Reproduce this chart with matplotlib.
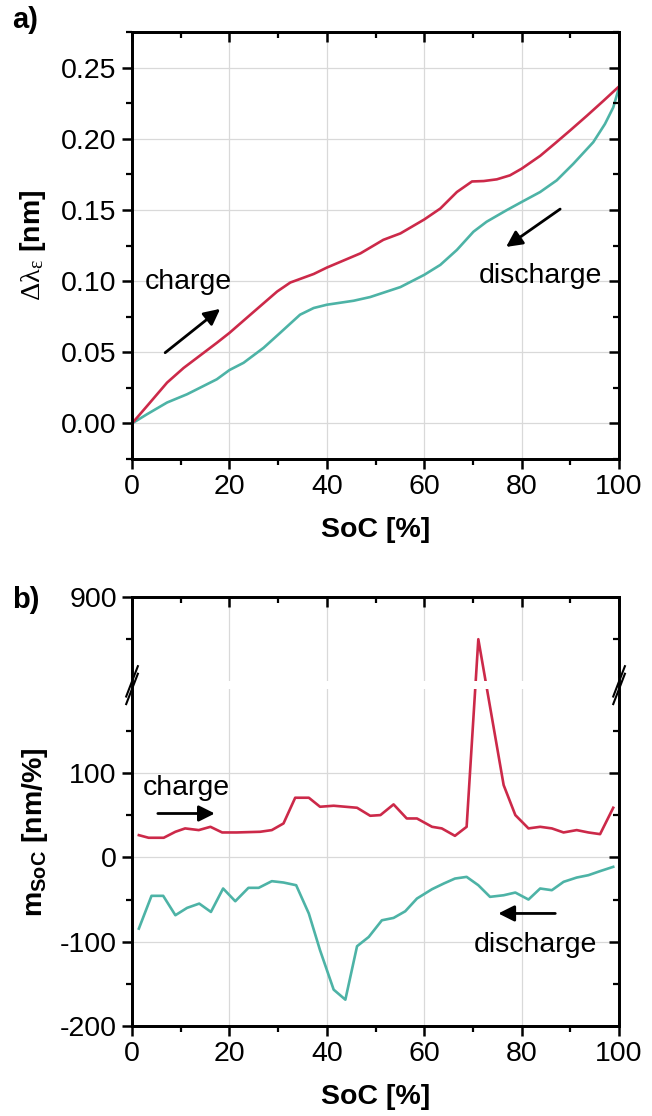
import matplotlib
matplotlib.use("Agg")
import matplotlib.pyplot as plt
from matplotlib.ticker import MultipleLocator, FixedLocator, NullFormatter

plt.rcParams['font.family'] = ['Liberation Sans', 'DejaVu Sans']
plt.rcParams['mathtext.fontset'] = 'custom'
plt.rcParams['mathtext.rm'] = 'Liberation Serif'
plt.rcParams['mathtext.it'] = 'Liberation Serif:italic'
plt.rcParams['mathtext.bf'] = 'Liberation Sans:bold'
plt.rcParams['mathtext.default'] = 'rm'

RED = '#CC2949'
TEAL = '#4DB3A6'
FS = 20.5

# panel a) wavelength shift vs SoC
soc_ch_a = [0, 3.1, 7.2, 10.6, 17.4, 20, 24.3, 29.8, 32.5, 37.3, 40, 46.9, 51.6, 55.1,
            60, 63.3, 66.7, 69.8, 72.2, 74.9, 77.6, 80, 83.8, 86.9, 89.9, 93.4, 96.8, 99.9]
dl_ch = [0, 0.0123, 0.0287, 0.039, 0.0566, 0.0636, 0.0764, 0.0927, 0.099, 0.105, 0.1095,
         0.1195, 0.129, 0.1335, 0.1433, 0.151, 0.1626, 0.170, 0.1703, 0.1715, 0.1743, 0.179,
         0.188, 0.1969, 0.2057, 0.2162, 0.2267, 0.2365]
soc_dis_a = [0, 3.1, 7.2, 11.3, 17.4, 20, 22.9, 27, 30.4, 34.5, 37.3, 40, 45.5, 48.9, 55.1,
             60, 63.3, 66.7, 70.1, 72.8, 76.9, 80, 83.8, 87.2, 90.6, 94.7, 97.1, 98.8, 99.9]
dl_dis = [0, 0.0065, 0.0147, 0.0205, 0.031, 0.0375, 0.0426, 0.0531, 0.0636, 0.0764, 0.0811,
          0.0834, 0.0862, 0.0888, 0.0958, 0.1044, 0.1114, 0.1219, 0.1347, 0.1417, 0.1498,
          0.1556, 0.1626, 0.1708, 0.1824, 0.1976, 0.2104, 0.222, 0.2349]

# panel b) slope vs SoC
soc_ch_b = [1.4, 3.4, 6.5, 8.9, 10.9, 13.7, 16.1, 18.5, 21.5, 26.3, 28.7, 31.1, 33.5, 36.3,
            38.6, 41.4, 46.2, 48.9, 51.0, 53.7, 56.4, 58.5, 61.6, 63.6, 66.3, 68.7, 71.1,
            76.3, 78.7, 81.4, 83.8, 86.2, 88.6, 91.3, 93.7, 96.1, 98.8]
m_ch = [26.5, 23.4, 23.4, 30.5, 34.5, 32.5, 36.4, 29.7, 29.7, 30.5, 32.5, 40.4, 70.9, 70.9,
        60.2, 61.4, 59.0, 49.5, 50.3, 63.0, 46.3, 46.3, 36.4, 34.5, 25.7, 36.4, 850,
        85.9, 50.3, 34.5, 36.4, 34.5, 29.7, 32.5, 29.7, 27.7, 59.0]
soc_dis_b = [1.4, 4.0, 6.4, 8.9, 11.3, 13.8, 16.2, 18.7, 21.2, 23.9, 26.0, 28.7, 31.1, 33.7,
             36.3, 38.6, 41.4, 43.8, 46.2, 48.6, 51.3, 53.7, 56.1, 58.5, 61.6, 64.0, 66.3,
             68.7, 71.1, 73.5, 76.3, 78.7, 81.4, 83.8, 86.2, 88.6, 91.3, 93.7, 96.1, 98.8]
m_dis = [-84.4, -45.5, -45.5, -68.5, -59.8, -54.7, -64.6, -36.8, -51.9, -36.0, -36.0, -28.1,
         -29.7, -32.9, -66.5, -110, -156.8, -168.7, -105.3, -94.3, -74.5, -71.7, -63.8, -48.7,
         -37.6, -30.9, -25.0, -23.0, -32.9, -46.7, -44.8, -41.6, -49.9, -36.8, -38.8, -28.9,
         -23.8, -21.0, -16.2, -11.1]

# axis break on panel b): values 200..800 are cut out
BRK_LO, BRK_HI, GAP = 200, 800, 9


def brk(v):
    return v if v <= BRK_LO else v - BRK_HI + BRK_LO + GAP


def style(ax, xmaj, ymaj, ymin):
    for s in ax.spines.values():
        s.set_linewidth(1.8)
    ax.set_xlim(0, 100)
    ax.xaxis.set_major_locator(FixedLocator(xmaj))
    ax.xaxis.set_minor_locator(MultipleLocator(10))
    ax.yaxis.set_major_locator(FixedLocator(ymaj))
    ax.yaxis.set_minor_locator(FixedLocator(ymin))
    ax.tick_params(which='major', direction='out', length=7, width=1.8, labelsize=FS, pad=4)
    ax.tick_params(which='minor', direction='out', length=4, width=1.6)
    ax.grid(True, which='major', color='#d9d9d9', lw=0.9)
    ax.set_axisbelow(True)
    # mirrored ticks on top and right, pointing inward
    tx = ax.twiny()
    tx.set_xlim(ax.get_xlim())
    tx.xaxis.set_major_locator(FixedLocator(xmaj))
    tx.xaxis.set_minor_locator(MultipleLocator(10))
    tx.xaxis.set_major_formatter(NullFormatter())
    tx.tick_params(which='major', direction='in', length=7, width=1.8)
    tx.tick_params(which='minor', direction='in', length=4, width=1.6)
    ty = ax.twinx()
    ty.set_ylim(ax.get_ylim())
    ty.yaxis.set_major_locator(FixedLocator(ymaj))
    ty.yaxis.set_minor_locator(FixedLocator(ymin))
    ty.yaxis.set_major_formatter(NullFormatter())
    ty.tick_params(which='major', direction='in', length=7, width=1.8)
    ty.tick_params(which='minor', direction='in', length=4, width=1.6)
    for t in (tx, ty):
        for s in t.spines.values():
            s.set_linewidth(1.8)


def arrow(ax, start, end):
    ax.annotate('', xy=end, xytext=start,
                arrowprops=dict(arrowstyle='-|>', color='k', lw=2, mutation_scale=24,
                                shrinkA=0, shrinkB=0))


fig = plt.figure(figsize=(6.52, 11.16), dpi=100)

# ---- a) ----
ax1 = fig.add_axes([0.2025, 0.5887, 0.747, 0.3826])
ax1.plot(soc_dis_a, dl_dis, color=TEAL, lw=1.9)
ax1.plot(soc_ch_a, dl_ch, color=RED, lw=1.9)
ax1.set_ylim(-0.025, 0.275)
yt_a = [0, 0.05, 0.10, 0.15, 0.20, 0.25]
ax1.set_xlabel('SoC [%]', fontsize=FS, fontweight='bold')
ax1.xaxis.set_label_coords(0.5, -0.135)
ax1.set_ylabel(r'$\Delta\lambda_{\varepsilon}$ $\mathbf{[nm]}$', fontsize=FS)
ax1.yaxis.set_label_coords(-0.172, 0.5)
ax1.text(11.6, 0.0997, 'charge', fontsize=FS, ha='center', va='center')
arrow(ax1, (6.8, 0.0497), (18.1, 0.0805))
ax1.text(83.9, 0.1036, 'discharge', fontsize=FS, ha='center', va='center')
arrow(ax1, (87.9, 0.1506), (76.8, 0.124))
ax1.set_yticks(yt_a, ['%.2f' % v for v in yt_a])
style(ax1, [0, 20, 40, 60, 80, 100], yt_a, [-0.025, 0.025, 0.075, 0.125, 0.175, 0.225, 0.275])
fig.text(0.018, 0.982, 'a)', fontsize=21, fontweight='bold', ha='left', va='center')

# ---- b) ----
ax2 = fig.add_axes([0.2025, 0.0806, 0.747, 0.3844])
ax2.plot(soc_dis_b, [brk(v) for v in m_dis], color=TEAL, lw=1.9)
ax2.plot(soc_ch_b, [brk(v) for v in m_ch], color=RED, lw=1.9)
ax2.set_ylim(-200, brk(900))
yt_b = [-200, -100, 0, 100, 900]
ax2.set_yticks([brk(v) for v in yt_b], [str(v) for v in yt_b])
# gap where the axis is cut
ax2.axhspan(BRK_LO, BRK_LO + GAP, color='white', lw=0, zorder=2.2)
ymid = BRK_LO + GAP / 2
trans = ax2.get_yaxis_transform()
for xs in (0, 1):
    ax2.plot([xs - 0.011, xs + 0.011], [ymid - 18, ymid + 18], transform=trans,
             color='white', lw=4, clip_on=False, zorder=5)
    for off in (-4.5, 4.5):
        ax2.plot([xs - 0.012, xs + 0.012], [ymid - 18 + off, ymid + 18 + off],
                 transform=trans, color='k', lw=1.5, clip_on=False, zorder=6)
ax2.set_xlabel('SoC [%]', fontsize=FS, fontweight='bold')
ax2.xaxis.set_label_coords(0.5, -0.135)
ax2.set_ylabel(r'$\mathbf{m_{SoC}}$ $\mathbf{[nm/\%]}$', fontsize=FS)
ax2.yaxis.set_label_coords(-0.168, 0.452)
ax2.text(11.2, 83, 'charge', fontsize=FS, ha='center', va='center')
arrow(ax2, (5.3, 52.2), (17.0, 52.2))
ax2.text(82.9, -104, 'discharge', fontsize=FS, ha='center', va='center')
arrow(ax2, (86.9, -66.4), (75.2, -66.4))
style(ax2, [0, 20, 40, 60, 80, 100], [brk(v) for v in yt_b],
      [-150, -50, 50, 150, brk(850)])
fig.text(0.018, 0.462, 'b)', fontsize=21, fontweight='bold', ha='left', va='center')

fig.savefig('out.png', dpi=100)
